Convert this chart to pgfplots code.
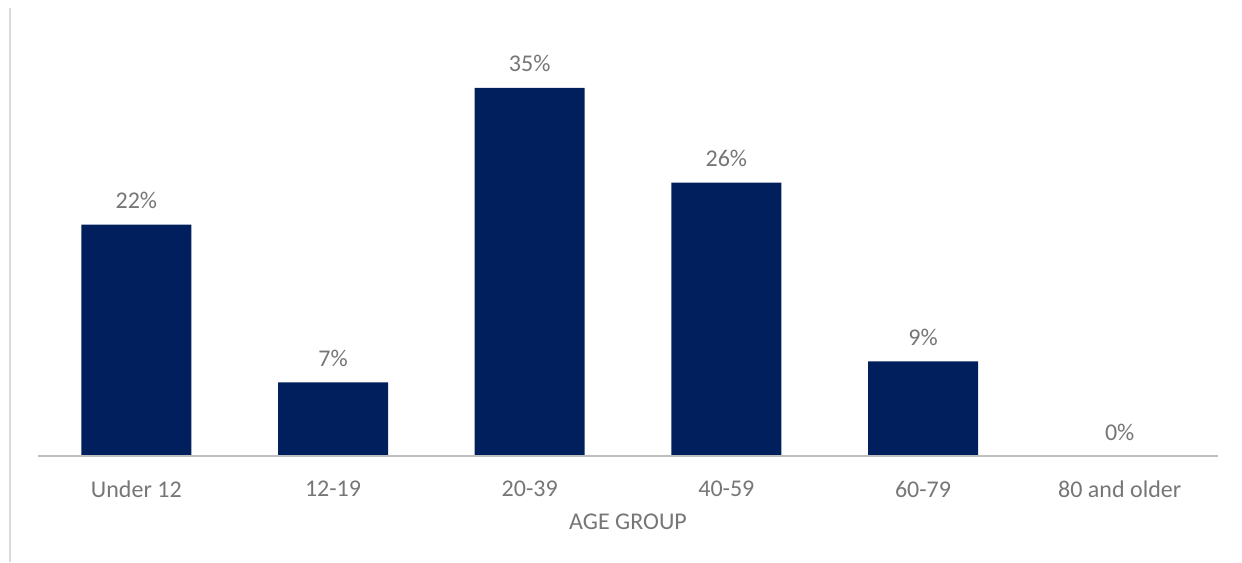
\documentclass[border=0pt]{standalone}
\usepackage{pgfplots}
\pgfplotsset{compat=1.18}
\usepackage{fontspec}
\setmainfont{Carlito}
\definecolor{barblue}{HTML}{001F5C}
\definecolor{txtgray}{HTML}{767676}
\definecolor{axgray}{HTML}{BFBFBF}
\definecolor{framegray}{HTML}{D9D9D9}
\begin{document}
\begin{tikzpicture}
\begin{axis}[
  scale only axis,
  width=590pt, height=210.3pt,
  xmin=-0.5, xmax=5.5,
  ymin=0, ymax=40,
  axis y line=none,
  axis x line*=bottom,
  axis on top,
  x axis line style={draw=axgray, line width=1.2pt, -},
  xtick={0,1,2,3,4,5},
  xticklabels={Under 12,12-19,20-39,40-59,60-79,80 and older},
  major tick length=0pt,
  xticklabel style={font=\fontsize{12}{14}\selectfont, text=txtgray, anchor=center, yshift=-16.5pt},
  xlabel={AGE GROUP},
  xlabel style={font=\fontsize{12}{14}\selectfont, text=txtgray, anchor=center, at={(axis description cs:0.5,0)}, yshift=-33pt},
  ybar, bar width=55pt,
  /pgf/number format/assume math mode=true,
  nodes near coords={\pgfmathprintnumber{\pgfplotspointmeta}\%},
  nodes near coords style={font=\fontsize{12}{14}\selectfont, text=txtgray, anchor=base, inner sep=0pt, yshift=8pt},
  clip=false,
]
\addplot[fill=barblue, draw=none] coordinates {(0,22) (1,7) (2,35) (3,26) (4,9) (5,0)};
\draw[framegray, line width=1pt] (rel axis cs:-0.0237,-0.252) -- (rel axis cs:-0.0237,1.065);
\coordinate (bl) at (rel axis cs:-0.0322,-0.252);
\coordinate (tr) at (rel axis cs:1.0203,1.0842);
\end{axis}
\pgfresetboundingbox
\path[use as bounding box] (bl) rectangle (tr);
\end{tikzpicture}
\end{document}
